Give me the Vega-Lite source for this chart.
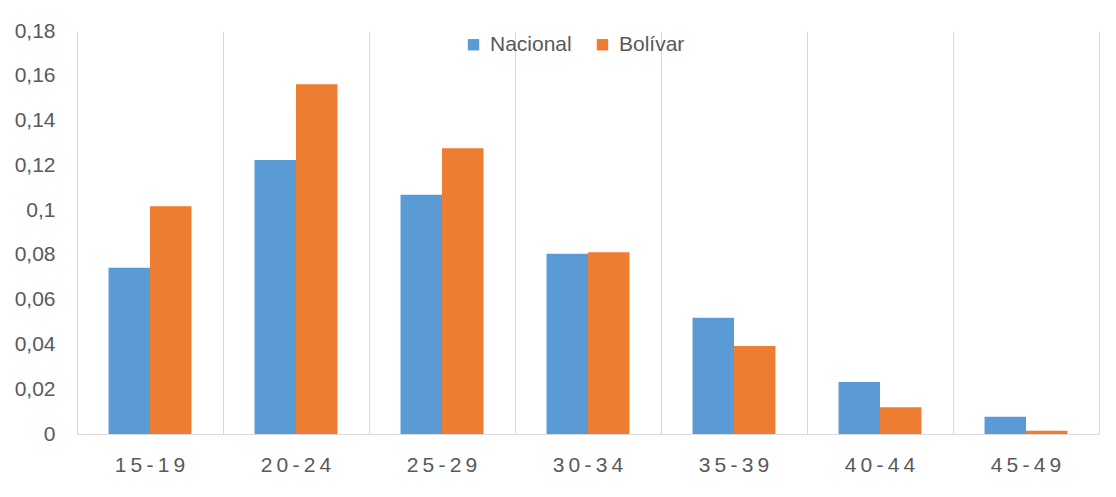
{
  "$schema": "https://vega.github.io/schema/vega-lite/v6.json",
  "width": 1022,
  "height": 403,
  "autosize": {"type": "none"},
  "padding": {"left": 77, "top": 31, "right": 17, "bottom": 63},
  "background": "white",
  "config": {
    "view": {"stroke": null},
    "font": "Liberation Sans"
  },
  "data": {
    "values": [
      {"grupo": "15-19", "serie": "Nacional", "valor": 0.0743},
      {"grupo": "15-19", "serie": "Bolívar", "valor": 0.1017},
      {"grupo": "20-24", "serie": "Nacional", "valor": 0.1224},
      {"grupo": "20-24", "serie": "Bolívar", "valor": 0.1562},
      {"grupo": "25-29", "serie": "Nacional", "valor": 0.1069},
      {"grupo": "25-29", "serie": "Bolívar", "valor": 0.1276},
      {"grupo": "30-34", "serie": "Nacional", "valor": 0.0805},
      {"grupo": "30-34", "serie": "Bolívar", "valor": 0.0812},
      {"grupo": "35-39", "serie": "Nacional", "valor": 0.0519},
      {"grupo": "35-39", "serie": "Bolívar", "valor": 0.0393},
      {"grupo": "40-44", "serie": "Nacional", "valor": 0.0232},
      {"grupo": "40-44", "serie": "Bolívar", "valor": 0.0119},
      {"grupo": "45-49", "serie": "Nacional", "valor": 0.0077},
      {"grupo": "45-49", "serie": "Bolívar", "valor": 0.0015}
    ]
  },
  "layer": [
    {
      "mark": {"type": "bar"},
      "encoding": {
        "x": {
          "field": "grupo",
          "type": "nominal",
          "sort": null,
          "scale": {"paddingInner": 0, "paddingOuter": 0},
          "axis": {
            "title": null,
            "labelAngle": 0,
            "labelFontSize": 21,
            "labelColor": "#595959",
            "labelPadding": 20,
            "labelExpr": "join(split(datum.label, ''), '\u2009')",
            "ticks": false,
            "domain": true,
            "domainColor": "#D9D9D9",
            "domainWidth": 1,
            "grid": true,
            "gridColor": "#D9D9D9",
            "gridWidth": 1,
            "bandPosition": 0
          }
        },
        "xOffset": {
          "field": "serie",
          "type": "nominal",
          "sort": ["Nacional", "Bolívar"],
          "scale": {"paddingInner": 0, "paddingOuter": 0.76}
        },
        "y": {
          "field": "valor",
          "type": "quantitative",
          "scale": {"domain": [0, 0.18], "nice": false},
          "axis": {
            "title": null,
            "values": [0, 0.02, 0.04, 0.06, 0.08, 0.1, 0.12, 0.14, 0.16, 0.18],
            "labelExpr": "replace(format(datum.value, '.2~f'), '.', ',')",
            "labelFontSize": 21,
            "labelColor": "#595959",
            "labelPadding": 22,
            "ticks": false,
            "tickSize": 0,
            "domain": false,
            "grid": false
          }
        },
        "color": {
          "field": "serie",
          "type": "nominal",
          "scale": {"domain": ["Nacional", "Bolívar"], "range": ["#5B9BD5", "#ED7D31"]},
          "legend": {
            "title": null,
            "orient": "none",
            "direction": "horizontal",
            "legendX": 386,
            "legendY": 3,
            "symbolType": "square",
            "symbolSize": 130,
            "symbolStrokeWidth": 0,
            "labelFontSize": 21,
            "labelColor": "#595959",
            "labelOffset": 6,
            "columnPadding": 20
          }
        }
      }
    },
    {
      "mark": {"type": "bar", "opacity": 0},
      "encoding": {
        "x": {"field": "grupo", "type": "nominal", "sort": null},
        "y": {
          "field": "valor",
          "type": "quantitative",
          "axis": {
            "orient": "right",
            "title": null,
            "labels": false,
            "ticks": false,
            "grid": false,
            "domain": true,
            "domainColor": "#D9D9D9",
            "domainWidth": 1
          }
        }
      }
    }
  ],
  "resolve": {"axis": {"y": "independent"}}
}
